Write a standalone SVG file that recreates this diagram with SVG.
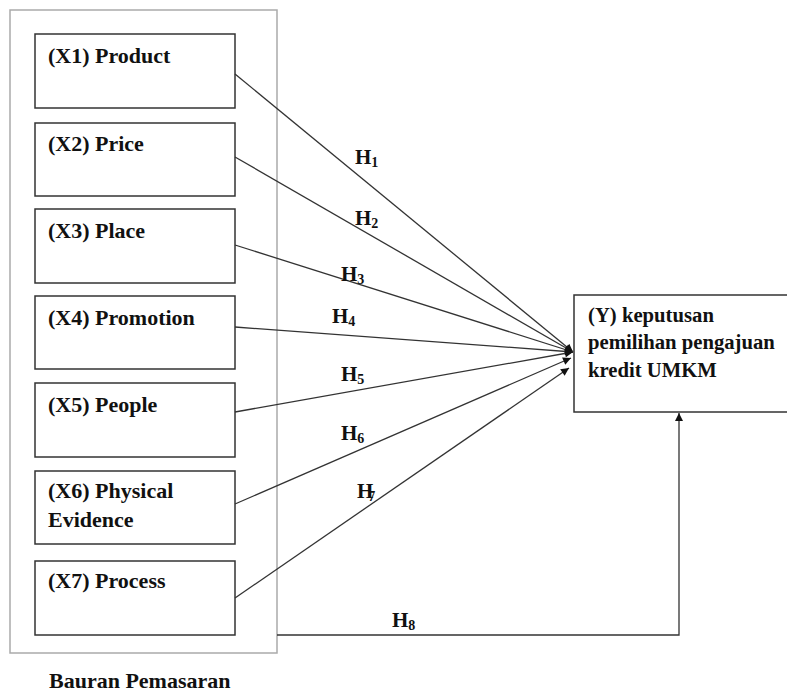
<svg xmlns="http://www.w3.org/2000/svg" width="787" height="693" viewBox="0 0 787 693">
<defs>
<style>
.box{fill:#fff;stroke:#333;stroke-width:1.5}
.outer{fill:none;stroke:#aaa;stroke-width:1.5}
.t{font-family:"Liberation Serif","Times New Roman",serif;font-weight:bold;font-size:22px;fill:#111}
.ty{font-family:"Liberation Serif","Times New Roman",serif;font-weight:bold;font-size:20.7px;fill:#111}
.h{font-family:"Liberation Serif","Times New Roman",serif;font-weight:bold;font-size:21px;fill:#111}
.sub{font-size:14px}
.ln{fill:none;stroke:#333;stroke-width:1.3}
</style>
<marker id="ah" viewBox="0 0 10 10" refX="10" refY="5" markerWidth="9" markerHeight="8" markerUnits="userSpaceOnUse" orient="auto">
<path d="M0,0 L10,5 L0,10 z" fill="#111"/>
</marker>
</defs>
<rect fill="#fff" x="0" y="0" width="787" height="693"/>
<g id="bauran">
<rect class="outer" x="10" y="10" width="267" height="643"/>
<text class="t" x="49" y="688">Bauran Pemasaran</text>
</g>
<g id="x1"><rect class="box" x="35" y="34" width="200" height="74"/><text class="t" x="48" y="63">(X1) Product</text></g>
<g id="x2"><rect class="box" x="35" y="123" width="200" height="73"/><text class="t" x="48" y="151">(X2) Price</text></g>
<g id="x3"><rect class="box" x="35" y="209" width="200" height="74"/><text class="t" x="48" y="238">(X3) Place</text></g>
<g id="x4"><rect class="box" x="35" y="296" width="200" height="73"/><text class="t" x="48" y="325">(X4) Promotion</text></g>
<g id="x5"><rect class="box" x="35" y="383" width="200" height="74"/><text class="t" x="48" y="412">(X5) People</text></g>
<g id="x6"><rect class="box" x="35" y="471" width="200" height="73"/><text class="t" x="48" y="498">(X6) Physical</text><text class="t" x="48" y="527">Evidence</text></g>
<g id="x7"><rect class="box" x="35" y="561" width="200" height="74"/><text class="t" x="48" y="588">(X7) Process</text></g>
<g id="y"><rect class="box" x="574" y="295" width="220" height="117"/>
<text class="ty" x="588" y="322">(Y) keputusan</text>
<text class="ty" x="588" y="349">pemilihan pengajuan</text>
<text class="ty" x="588" y="377">kredit UMKM</text></g>
<g id="connectors">
<line class="ln" x1="235" y1="74" x2="573" y2="352" marker-end="url(#ah)"/>
<line class="ln" x1="235" y1="157" x2="573" y2="352" marker-end="url(#ah)"/>
<line class="ln" x1="235" y1="245" x2="573" y2="352" marker-end="url(#ah)"/>
<line class="ln" x1="235" y1="327" x2="573" y2="352" marker-end="url(#ah)"/>
<line class="ln" x1="235" y1="412" x2="573" y2="352" marker-end="url(#ah)"/>
<line class="ln" x1="235" y1="504" x2="571" y2="358" marker-end="url(#ah)"/>
<line class="ln" x1="235" y1="598" x2="569" y2="368" marker-end="url(#ah)"/>
<polyline class="ln" points="277,635 679,635 679,413" marker-end="url(#ah)"/>
</g>
<g id="labels">
<text class="h" x="355" y="164">H<tspan class="sub" dy="3">1</tspan></text>
<text class="h" x="355" y="225">H<tspan class="sub" dy="3">2</tspan></text>
<text class="h" x="341" y="281">H<tspan class="sub" dy="3">3</tspan></text>
<text class="h" x="332" y="323">H<tspan class="sub" dy="3">4</tspan></text>
<text class="h" x="341" y="381">H<tspan class="sub" dy="3">5</tspan></text>
<text class="h" x="341" y="440">H<tspan class="sub" dy="3">6</tspan></text>
<text class="h" x="357" y="498">H<tspan class="sub" dx="-5" dy="3">7</tspan></text>
<text class="h" x="392" y="627">H<tspan class="sub" dy="3">8</tspan></text>
</g>
</svg>
